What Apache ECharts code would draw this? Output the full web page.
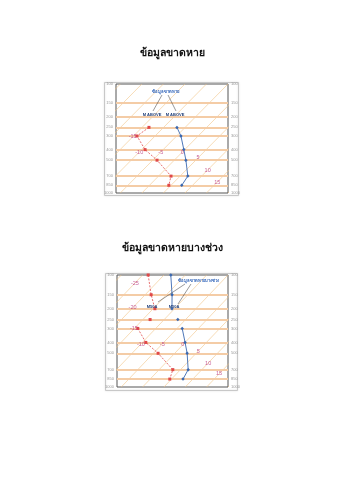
<!DOCTYPE html>
<html><head><meta charset="utf-8">
<script src="https://cdn.jsdelivr.net/npm/echarts@6/dist/echarts.min.js"></script>
<style>html,body{margin:0;padding:0;background:#fff}#c{width:339px;height:480px}</style>
</head><body><div id="c"></div>
<script>
// ---- data ----
const pressureLevels = [100,150,200,250,300,400,500,700,850,1000];
const pressureTickLabels = ['100','150','200','250','300','400','500','700','850','1000'];
const obsLevels = [100,150,200,250,300,400,500,700,850];
// chart 1: missing above 250 hPa
const temp1 = [null,null,null,-6.9,-4.0,-0.2,2.7,6.8,7.5];
const dew1  = [null,null,null,-13.4,-14.2,-9.2,-4.0,2.9,4.5];
// chart 2: missing in some layers (250 hPa isolated)
const temp2 = [-18.4,-13.7,-10.6,-6.8,-3.8,0.0,2.9,6.8,7.7];
const dew2  = [-23.7,-18.6,-14.6,-13.3,-14.2,-9.2,-3.9,3.2,4.6];
const gaps2 = [[200,250],[250,300]];
const isothermLabels1 = [-15,-10,-5,0,5,10,15];
const isothermLabels2 = [-25,-20,-15,-10,-5,0,5,10,15];
const titles = ['ข้อมูลขาดหาย','ข้อมูลขาดหายบางช่วง'];
const notes = ['ข้อมูลขาดหาย','ข้อมูลขาดหายบางช่วง'];
const missLabels = ['M ABOVE','M50A'];

// ---- helpers ----
const SKEW = 25;
const skewX = (t,p) => t + SKEW*Math.log10(1000/p);
const isoLabelP1 = [306,421,421,421,477,615,793];
const isoLabelP2 = [118,197,303,413,413,421,477,611,765];

function runs(vals, gaps){
  const out=[]; let cur=[];
  obsLevels.forEach((p,i)=>{
    const v=vals[i];
    if(v===null){ if(cur.length){out.push(cur);cur=[];} return; }
    if(cur.length){
      const prevP=cur[cur.length-1][1];
      if(gaps.some(g=>g[0]===prevP&&g[1]===p)){out.push(cur);cur=[];}
    }
    cur.push([skewX(v,p),p]);
  });
  if(cur.length) out.push(cur);
  return out;
}

const series=[];
function addChart(gi, temp, dew, gaps, isoLabs, isoP){
  series.push({type:'line',xAxisIndex:gi,yAxisIndex:gi*2,data:[],silent:true,
    markLine:{silent:true,symbol:'none',label:{show:false},
      lineStyle:{color:'#f4cca6',width:2,type:'solid'},
      data:pressureLevels.slice(1,-1).map(p=>({yAxis:p}))}});
  for(let t=-80;t<=40;t+=5){
    series.push({type:'line',xAxisIndex:gi,yAxisIndex:gi*2,silent:true,symbol:'none',clip:true,
      lineStyle:{color:'#f1c487',width:0.6},
      data:[[skewX(t,1000),1000],[skewX(t,100),100]]});
  }
  series.push({type:'scatter',xAxisIndex:gi,yAxisIndex:gi*2,symbolSize:0,silent:true,z:8,
    label:{show:true,position:'inside',fontSize:5.5,color:'#b8357f',formatter:p=>String(p.value[2])},
    labelLayout:{hideOverlap:false},
    data:isoLabs.map((t,i)=>[skewX(t,isoP[i]),isoP[i],t])});
  runs(dew,gaps).forEach(seg=>series.push({type:'line',xAxisIndex:gi,yAxisIndex:gi*2,
    data:seg,symbol:'rect',symbolSize:3,showSymbol:true,
    itemStyle:{color:'#e04848'},lineStyle:{color:'#e04848',width:0.8,type:[2,1.5]},z:5}));
  runs(temp,gaps).forEach(seg=>series.push({type:'line',xAxisIndex:gi,yAxisIndex:gi*2,
    data:seg,symbol:'diamond',symbolSize:3.5,showSymbol:true,
    itemStyle:{color:'#3a68b0'},lineStyle:{color:'#3a68b0',width:0.9},z:5}));
}
addChart(0,temp1,dew1,[],isothermLabels1,isoLabelP1);
addChart(1,temp2,dew2,gaps2,isothermLabels2,isoLabelP2);

function yAx(gi,pos){
  return {gridIndex:gi,type:'log',logBase:10,min:100,max:1000,inverse:true,position:pos,
    axisLine:{show:false},axisTick:{show:false},splitLine:{show:false},
    axisLabel:{customValues:pressureLevels,fontSize:4,color:'#999',margin:3,
      formatter:v=>{const i=pressureLevels.findIndex(p=>Math.abs(p-v)<0.5);return i>=0?pressureTickLabels[i]:'';}}};
}

const grids=[{left:116,top:84,width:112,height:109},{left:117,top:275,width:111,height:112}];
const boxes=[[104,82,134,113],[105,273,132,117]];
const graphic=[];
titles.forEach((t,i)=>graphic.push({type:'text',x:172,y:i?248:53,
  style:{text:t,fontSize:10.5,fontWeight:'bold',fill:'#111',align:'center',verticalAlign:'middle',
  fontFamily:'Noto Sans, DejaVu Sans, sans-serif'}}));
boxes.forEach(b=>graphic.push({type:'rect',shape:{x:b[0]+0.5,y:b[1]+0.5,width:b[2],height:b[3]},
  style:{fill:null,stroke:'#c8c8c8',lineWidth:1,shadowBlur:2,shadowColor:'rgba(0,0,0,0.15)'},z:-1}));
const noteStyle={fontSize:4.2,fontWeight:'bold',fill:'#2e62b8',align:'center',verticalAlign:'middle'};
const missStyle={fontSize:4,fontWeight:'bold',fill:'#22407a',align:'center',verticalAlign:'middle'};
graphic.push({type:'text',x:165,y:92,style:Object.assign({text:notes[0]},noteStyle),z:10});
graphic.push({type:'polyline',shape:{points:[[162,95],[153,111]]},style:{stroke:'#333',lineWidth:0.5},z:10});
graphic.push({type:'polyline',shape:{points:[[168,95],[176,111]]},style:{stroke:'#333',lineWidth:0.5},z:10});
graphic.push({type:'text',x:152,y:115,style:Object.assign({text:missLabels[0]},missStyle),z:10});
graphic.push({type:'text',x:175,y:115,style:Object.assign({text:missLabels[0]},missStyle),z:10});
graphic.push({type:'text',x:198,y:281,style:Object.assign({text:notes[1]},noteStyle),z:10});
graphic.push({type:'polyline',shape:{points:[[185,284],[158,302]]},style:{stroke:'#333',lineWidth:0.5},z:10});
graphic.push({type:'polyline',shape:{points:[[191,284],[178,304]]},style:{stroke:'#333',lineWidth:0.5},z:10});
graphic.push({type:'text',x:152,y:307,style:Object.assign({text:missLabels[1]},missStyle),z:10});
graphic.push({type:'text',x:174,y:307,style:Object.assign({text:missLabels[1]},missStyle),z:10});

const chart=echarts.init(document.getElementById('c'),null,{renderer:'canvas'});
chart.setOption({
  backgroundColor:'#fff',animation:false,
  grid:grids.map(g=>Object.assign({show:true,borderColor:'#555',borderWidth:1,backgroundColor:'#fff'},g)),
  xAxis:[0,1].map(gi=>({gridIndex:gi,type:'value',min:-6,max:20,show:false})),
  yAxis:[yAx(0,'left'),yAx(0,'right'),yAx(1,'left'),yAx(1,'right')],
  series:series,
  graphic:graphic
});
</script></body></html>
